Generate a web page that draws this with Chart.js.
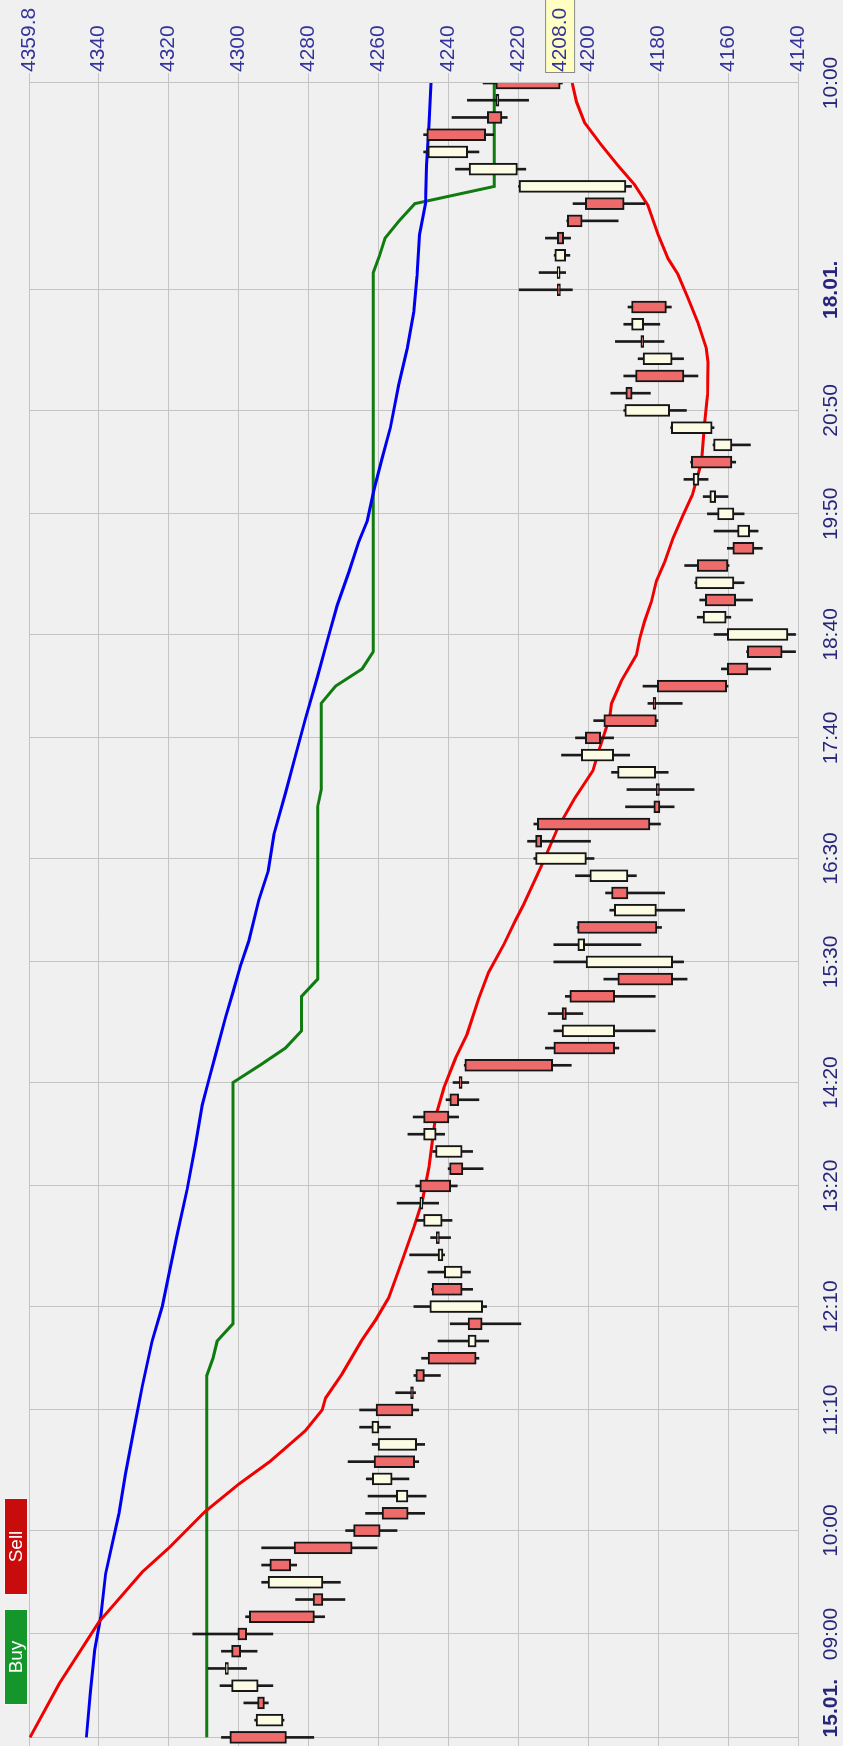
<!DOCTYPE html>
<html>
<head>
<meta charset="utf-8">
<script src="https://cdn.jsdelivr.net/npm/chart.js@4/dist/chart.umd.min.js"></script>
<style>
  html, body { margin: 0; padding: 0; background: #f0f0f0; overflow: hidden; }
  body { width: 843px; height: 1746px; position: relative; }
  /* chart is drawn landscape, then turned so time runs bottom -> top */
  #wrap { position: absolute; left: 0; top: 0; width: 1746px; height: 843px;
          transform-origin: 0 0; transform: translateY(1746px) rotate(-90deg); }
  #wrap canvas { position: absolute; left: 0; top: 0; }
  .btn { position: absolute; top: 4px; height: 24px; box-sizing: border-box; border: 1px solid #f6f6f6;
         color: #fff; text-align: center; line-height: 22px;
         font: 19px "Liberation Sans", Arial, sans-serif; }
  .buy { left: 41px; width: 96px; background: #14962a; }
  .sell { left: 151px; width: 97px; background: #c80c0c; }
</style>
</head>
<body>
<div id="wrap">
  <canvas id="chart" width="1746" height="843"></canvas>
  <div class="btn buy">Buy</div>
  <div class="btn sell">Sell</div>
</div>
<script>
const FONT = '"Liberation Sans", Arial, sans-serif';

// time axis: bar index of each labelled grid line
const tickBars = [0, 6, 12, 19, 25, 32, 38, 45, 51, 58, 64, 71, 77, 84, 96];
const tickLabels = ['15.01.', '09:00', '10:00', '11:10', '12:10', '13:20', '14:20',
                    '15:30', '16:30', '17:40', '18:40', '19:50', '20:50', '18.01.', '10:00'];
const priceTicks = [4140, 4160, 4180, 4200, 4220, 4240, 4260, 4280, 4300, 4320, 4340, 4359.8];

// candles (one per bar)
const openP = [4302.4, 4287.2, 4294.5, 4294.3, 4302.8, 4301.9, 4300.1, 4296.8, 4278.6, 4275.8,
  4291.0, 4284.0, 4267.0, 4258.9, 4251.5, 4256.0, 4261.2, 4249.0, 4259.8, 4260.6,
  4250.4, 4249.2, 4245.7, 4232.0, 4234.3, 4230.1, 4244.6, 4236.0, 4241.5, 4242.9,
  4241.7, 4247.2, 4248.1, 4239.6, 4236.0, 4243.4, 4247.0, 4239.5, 4236.4, 4235.2,
  4209.8, 4192.4, 4207.4, 4205.2, 4191.5, 4175.8, 4201.0, 4203.0, 4180.5, 4193.3,
  4188.6, 4200.5, 4215.0, 4214.5, 4181.2, 4180.0, 4180.7, 4192.7, 4200.8, 4195.5,
  4181.0, 4180.2, 4160.2, 4154.5, 4142.9, 4160.5, 4166.5, 4158.3, 4168.8, 4158.6,
  4153.8, 4158.3, 4163.5, 4168.3, 4170.5, 4158.9, 4164.5, 4176.7, 4189.2, 4186.4,
  4176.0, 4184.5, 4184.1, 4187.6, 4208.3, 4208.0, 4206.4, 4208.8, 4205.9, 4200.8,
  4189.2, 4220.2, 4234.4, 4246.1, 4228.8, 4225.9, 4226.4];
const highP = [4304.8, 4295.3, 4298.4, 4305.2, 4308.6, 4304.8, 4313.0, 4297.9, 4283.6, 4293.3,
  4293.3, 4293.3, 4269.3, 4263.6, 4262.9, 4263.4, 4268.6, 4261.7, 4265.3, 4265.3,
  4255.0, 4249.8, 4247.6, 4242.9, 4239.4, 4249.8, 4244.8, 4245.8, 4251.0, 4245.0,
  4249.0, 4254.6, 4249.3, 4240.0, 4244.4, 4251.5, 4250.0, 4240.6, 4238.6, 4235.4,
  4212.2, 4209.8, 4211.4, 4206.5, 4195.5, 4209.8, 4209.8, 4203.2, 4193.8, 4195.0,
  4203.6, 4215.5, 4217.3, 4215.5, 4189.3, 4188.9, 4193.3, 4207.6, 4203.6, 4198.4,
  4182.9, 4184.3, 4161.9, 4154.7, 4164.0, 4168.8, 4168.1, 4169.5, 4172.4, 4160.2,
  4164.0, 4165.9, 4167.1, 4172.6, 4170.7, 4164.3, 4176.4, 4189.8, 4193.5, 4189.8,
  4185.7, 4192.2, 4189.8, 4188.6, 4219.7, 4214.0, 4209.7, 4212.2, 4206.1, 4204.3,
  4219.9, 4237.9, 4247.0, 4247.0, 4238.9, 4234.5, 4230.0];
const lowP = [4278.4, 4286.9, 4291.4, 4290.1, 4297.6, 4294.6, 4290.1, 4275.3, 4269.5, 4270.8,
  4283.3, 4260.3, 4254.6, 4246.7, 4246.3, 4251.2, 4248.4, 4246.7, 4256.5, 4248.4,
  4249.3, 4242.2, 4231.2, 4228.4, 4219.2, 4229.0, 4233.0, 4233.6, 4241.0, 4239.3,
  4238.9, 4242.7, 4237.4, 4230.0, 4233.0, 4241.0, 4237.0, 4231.2, 4234.1, 4204.8,
  4191.2, 4180.8, 4201.5, 4180.8, 4171.7, 4172.7, 4184.9, 4179.0, 4172.4, 4178.1,
  4186.2, 4198.3, 4199.3, 4179.3, 4175.4, 4169.7, 4177.1, 4188.1, 4192.7, 4180.0,
  4173.1, 4160.0, 4147.8, 4140.7, 4140.7, 4159.2, 4153.0, 4155.4, 4159.7, 4150.2,
  4151.4, 4155.4, 4160.0, 4165.7, 4157.8, 4153.6, 4164.0, 4171.9, 4182.2, 4168.6,
  4172.7, 4178.3, 4179.5, 4176.2, 4204.5, 4206.4, 4205.2, 4205.0, 4191.4, 4183.8,
  4187.6, 4217.8, 4231.2, 4227.0, 4223.1, 4217.0, 4207.3];
const closeP = [4286.2, 4294.9, 4292.5, 4301.9, 4303.0, 4299.3, 4297.6, 4278.2, 4275.8, 4291.5,
  4285.0, 4267.4, 4259.4, 4251.4, 4254.8, 4261.7, 4249.6, 4260.0, 4261.8, 4250.1,
  4249.9, 4246.8, 4232.0, 4234.3, 4230.3, 4245.2, 4236.0, 4241.1, 4242.9, 4242.5,
  4247.0, 4247.7, 4239.3, 4235.8, 4243.6, 4247.0, 4239.8, 4237.0, 4236.0, 4210.1,
  4192.4, 4207.4, 4206.2, 4192.4, 4175.8, 4200.6, 4202.9, 4180.3, 4192.5, 4188.6,
  4199.5, 4215.0, 4213.3, 4182.3, 4179.5, 4179.6, 4191.6, 4201.9, 4196.4, 4180.5,
  4180.6, 4160.4, 4154.3, 4144.5, 4160.2, 4167.1, 4157.8, 4169.3, 4160.0, 4152.6,
  4157.3, 4163.0, 4165.2, 4170.0, 4158.9, 4164.1, 4176.2, 4189.5, 4187.4, 4172.6,
  4184.3, 4184.1, 4187.6, 4177.6, 4207.9, 4208.3, 4209.5, 4207.0, 4201.7, 4189.7,
  4219.7, 4234.0, 4245.8, 4229.3, 4224.6, 4225.5, 4208.0];

// indicator lines, read at the bar positions where they were measured
const redBars = [0, 3.1, 6.7, 9.6, 11.0, 13.1, 14.7, 16.0, 17.8, 19.0, 19.7, 21.1, 23.0, 24.2, 25.5,
  27.7, 29.6, 31.1, 33.1, 36.0, 37.7, 39.4, 40.8, 42.9, 44.4, 46.0, 47.4, 48.3, 50.6, 52.8,
  54.5, 56.1, 57.4, 59.2, 60.0, 61.3, 62.8, 63.8, 64.8, 65.9, 67.1, 68.2, 69.6, 70.9, 72.1,
  74.0, 76.2, 77.9, 79.8, 80.6, 82.1, 83.5, 84.9, 85.8, 87.2, 88.9, 90.1, 91.2, 92.4, 93.7, 94.9, 96];
const redVals = [4359.5, 4351.2, 4339.8, 4327.4, 4319.8, 4309.5, 4299.8, 4291.0, 4280.8, 4276.0,
  4275.0, 4270.3, 4264.8, 4260.8, 4257.0, 4253.1, 4249.8, 4247.4, 4245.5, 4243.6,
  4241.2, 4237.9, 4234.6, 4231.2, 4228.4, 4224.1, 4220.8, 4218.5, 4213.3, 4208.6,
  4203.8, 4198.6, 4196.7, 4193.8, 4193.3, 4190.5, 4186.2, 4185.2, 4183.8, 4181.9,
  4180.5, 4178.1, 4175.7, 4172.9, 4170.2, 4167.6, 4166.7, 4165.9, 4165.7, 4166.2,
  4168.6, 4171.4, 4174.3, 4177.1, 4180.0, 4182.9, 4186.7, 4191.4, 4196.2, 4201.0, 4203.3, 4204.5];
const blueBars = [0, 2.7, 5.1, 7.0, 9.5, 13.0, 15.3, 17.9, 20.4, 23.0, 25.0, 26.9, 29.2, 31.8, 34.4,
  36.7, 38.0, 39.6, 41.8, 43.1, 44.8, 46.2, 48.6, 50.3, 52.4, 54.8, 57.0, 59.1, 61.5, 63.6,
  65.7, 67.6, 69.4, 70.6, 72.4, 74.2, 76.0, 78.5, 80.6, 82.7, 84.8, 87.2, 89.0, 91.2, 93.6, 96];
const blueVals = [4343.4, 4342.2, 4341.0, 4339.3, 4337.9, 4334.1, 4332.2, 4329.8, 4327.4, 4324.6,
  4321.7, 4319.8, 4317.4, 4314.6, 4312.2, 4310.3, 4308.6, 4306.5, 4303.6, 4301.7,
  4299.3, 4297.0, 4294.1, 4291.4, 4289.8, 4286.5, 4283.6, 4280.8, 4277.4, 4274.6,
  4271.7, 4268.4, 4265.5, 4263.1, 4261.2, 4258.9, 4256.5, 4254.1, 4251.7, 4249.8,
  4248.9, 4248.2, 4246.5, 4246.2, 4245.5, 4244.9];
const greenBars = [0, 21, 22, 23, 24, 38, 39, 40, 41, 43, 44, 54, 55, 60, 61, 62, 63, 85, 86, 87, 88, 89, 90, 96];
const greenVals = [4309.0, 4309.0, 4307.2, 4306.0, 4301.5, 4301.5, 4293.8, 4286.5, 4281.9, 4281.9,
  4277.3, 4277.3, 4276.3, 4276.3, 4272.2, 4264.6, 4261.4, 4261.4, 4259.6, 4258.0,
  4254.0, 4249.5, 4226.8, 4226.8];

const upColor = '#fcfce4';
const downColor = '#ef6b6b';
const gridColor = '#c4c4c4';
const bars = closeP.map((c, i) => i);

function toPoints(xs, ys) {
  return xs.map((x, i) => ({ x: x, y: ys[i] }));
}

// yellow box with the last price on the price axis
const lastPriceBox = {
  id: 'lastPriceBox',
  afterDraw(chart) {
    const { ctx, chartArea, scales } = chart;
    const last = closeP[closeP.length - 1];
    const y = scales.y.getPixelForValue(last);
    const x0 = chartArea.right + 10;
    ctx.save();
    ctx.fillStyle = '#ffffc4';
    ctx.fillRect(x0, y - 15, chart.width - x0, 30);
    ctx.strokeStyle = '#8a8a8a';
    ctx.lineWidth = 1;
    ctx.strokeRect(x0 + 0.5, y - 14.5, chart.width - x0, 29);
    ctx.fillStyle = '#34349a';
    ctx.font = '21px ' + FONT;
    ctx.textBaseline = 'middle';
    ctx.fillText(last.toFixed(1), chartArea.right + 11, y);
    ctx.restore();
  }
};

new Chart(document.getElementById('chart'), {
  type: 'bar',
  data: {
    datasets: [
      { type: 'bar', label: 'body', order: 0,
        data: bars.map(i => ({ x: i, y: [openP[i], closeP[i]] })),
        backgroundColor: bars.map(i => closeP[i] < openP[i] ? downColor : upColor),
        borderColor: '#161616', borderWidth: 2, borderSkipped: false,
        barThickness: 12, minBarLength: 3, grouped: false },
      { type: 'bar', label: 'wick', order: 1,
        data: bars.map(i => ({ x: i, y: [lowP[i], highP[i]] })),
        backgroundColor: '#1a1a1a', borderWidth: 0, barThickness: 2, grouped: false },
      { type: 'line', label: 'red', order: 2, data: toPoints(redBars, redVals),
        borderColor: '#f00000', borderWidth: 3, pointRadius: 0, tension: 0 },
      { type: 'line', label: 'blue', order: 2, data: toPoints(blueBars, blueVals),
        borderColor: '#0000f0', borderWidth: 3, pointRadius: 0, tension: 0 },
      { type: 'line', label: 'green', order: 2, data: toPoints(greenBars, greenVals),
        borderColor: '#107c10', borderWidth: 3, pointRadius: 0, tension: 0 }
    ]
  },
  options: {
    responsive: false,
    animation: false,
    layout: { padding: { top: 29, left: 0, right: 0, bottom: 0 } },
    plugins: { legend: { display: false }, tooltip: { enabled: false } },
    scales: {
      x: {
        type: 'linear', min: -0.5, max: 96, offset: false,
        grid: { offset: false, color: gridColor, drawTicks: false },
        border: { color: gridColor },
        afterBuildTicks: s => { s.ticks = tickBars.map(v => ({ value: v })); },
        afterFit: s => { s.height = 45; s.paddingLeft = 0; s.paddingRight = 0; },
        ticks: {
          autoSkip: false, maxRotation: 0, minRotation: 0, padding: 21, color: '#26267a',
          font: ctx => ({ family: FONT, size: 21,
                          weight: (tickLabels[ctx.index] || '').endsWith('.') ? 'bold' : 'normal' }),
          // first label starts at its grid line instead of being centred on it
          callback: (v, i) => i === 0 ? ' '.repeat(10) + tickLabels[i] : tickLabels[i]
        }
      },
      y: {
        type: 'linear', position: 'right', min: 4140, max: 4359.8,
        grid: { color: gridColor, tickLength: 10 },
        border: { color: gridColor },
        afterBuildTicks: s => { s.ticks = priceTicks.map(v => ({ value: v })); },
        afterFit: s => { s.width = 83; s.paddingTop = 0; s.paddingBottom = 0; },
        ticks: { padding: 1, color: '#34349a', font: { family: FONT, size: 21 },
                 callback: v => v % 1 ? v.toFixed(1) : String(v) }
      }
    }
  },
  plugins: [lastPriceBox]
});
</script>
</body>
</html>
